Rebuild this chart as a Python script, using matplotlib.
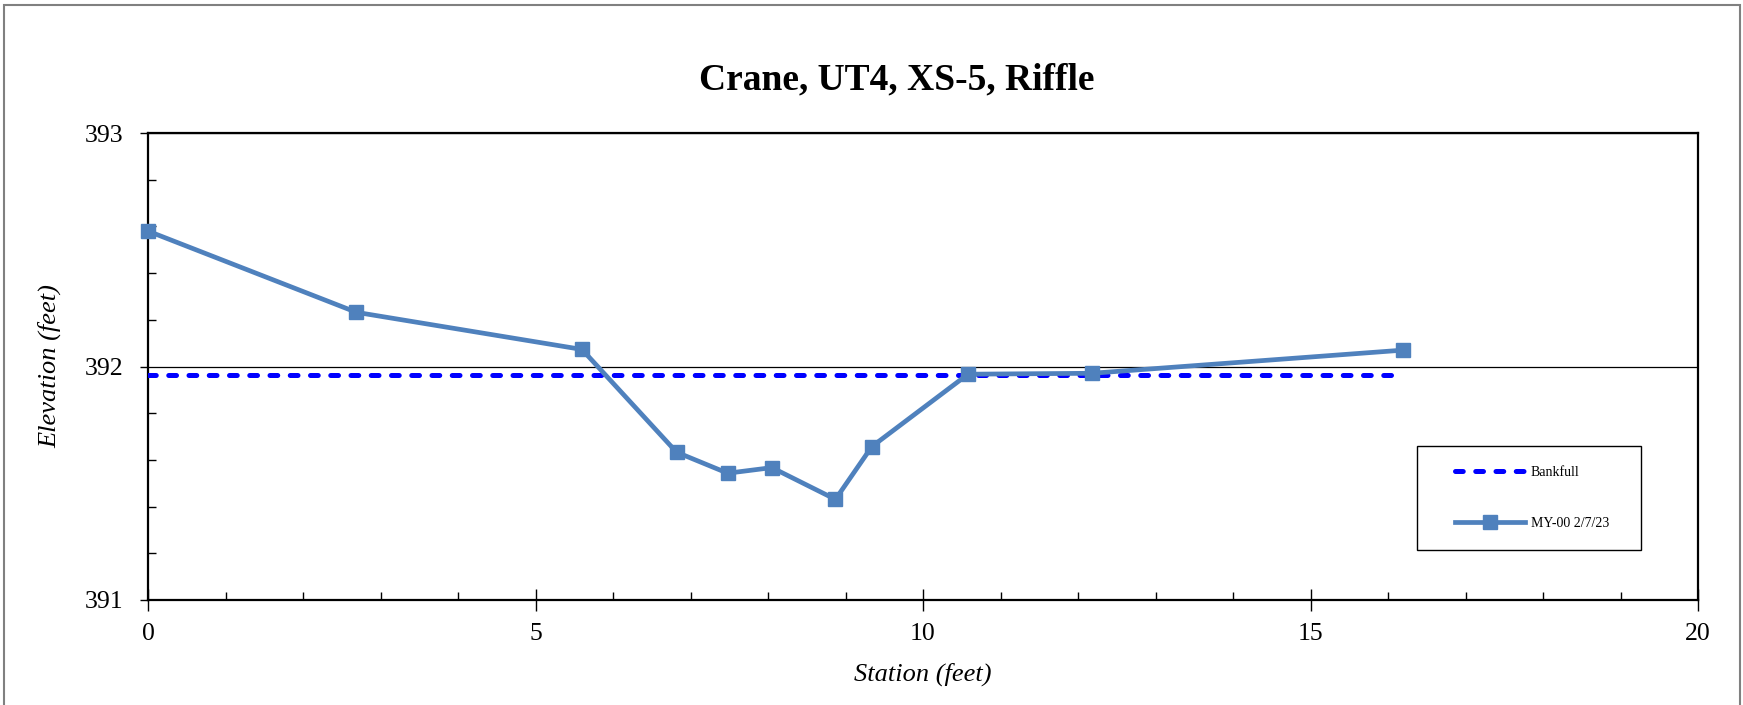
import matplotlib
matplotlib.use('Agg')
import matplotlib.pyplot as plt
from matplotlib.patches import Rectangle
from matplotlib.ticker import MultipleLocator
from matplotlib.legend_handler import HandlerLine2D
from matplotlib.lines import Line2D

plt.rcParams['font.family'] = ['Liberation Serif', 'DejaVu Serif']

# surveyed cross-section
station = [0.0, 2.69, 5.60, 6.82, 7.48, 8.05, 8.87, 9.34, 10.58, 12.18, 16.19]
elevation = [392.58, 392.232, 392.073, 391.633, 391.543, 391.567, 391.431,
             391.657, 391.967, 391.971, 392.07]

bankfull_x = [0.0, 16.19]
bankfull_y = [391.962, 391.962]

fig = plt.figure(figsize=(17.43, 7.05), dpi=100)
ax = fig.add_axes([148 / 1743, 1 - 600 / 705, 1550 / 1743, 467 / 705])

ax.plot(bankfull_x, bankfull_y, color='#0000FF', lw=3.6, linestyle=(0, (1.55, 2.5)),
        dash_capstyle='round', label='Bankfull', zorder=3)
ax.plot(station, elevation, color='#4F81BD', lw=3.4, marker='s', markersize=10.5,
        label='MY-00 2/7/23', zorder=4, clip_on=False)

ax.set_xlim(0, 20)
ax.set_ylim(391, 393)
ax.xaxis.set_major_locator(MultipleLocator(5))
ax.xaxis.set_minor_locator(MultipleLocator(1))
ax.yaxis.set_major_locator(MultipleLocator(1))
ax.yaxis.set_minor_locator(MultipleLocator(0.2))
ax.yaxis.grid(True, which='major', color='black', lw=0.9)
ax.set_axisbelow(True)

ax.tick_params(axis='x', which='major', direction='inout', length=16, width=1,
               labelsize=18.5, pad=8.5)
ax.tick_params(axis='x', which='minor', direction='in', length=6, width=1)
ax.tick_params(axis='y', which='major', direction='out', length=6, width=1,
               labelsize=18.5, pad=12)
ax.tick_params(axis='y', which='minor', direction='in', length=6, width=1)
for s in ax.spines.values():
    s.set_linewidth(1.6)

ax.set_xlabel('Station (feet)', fontsize=19, style='italic', labelpad=13)
ax.set_ylabel('Elevation (feet)', fontsize=19, style='italic', labelpad=16.5)
fig.text(897 / 1743, 1 - 80 / 705, 'Crane, UT4, XS-5, Riffle', fontsize=27,
         fontweight='bold', ha='center', va='center')

leg = ax.legend(loc='upper left', bbox_to_anchor=(1417 / 1743, 1 - 446 / 705, 224 / 1743, 0),
                bbox_transform=fig.transFigure, mode='expand', borderaxespad=0,
                fontsize=10, handlelength=6.3, handletextpad=0.45, borderpad=1.45,
                labelspacing=2.7, fancybox=False, framealpha=1, edgecolor='black',
                handler_map={Line2D: HandlerLine2D(xpad=1.25)})
leg.get_frame().set_linewidth(1)

fig.patches.append(Rectangle((4 / 1743, -0.05), 1736 / 1743, 1.05 - 5 / 705,
                             transform=fig.transFigure, fill=False,
                             edgecolor='#808080', lw=1.5))

fig.savefig('out.png', dpi=100)
